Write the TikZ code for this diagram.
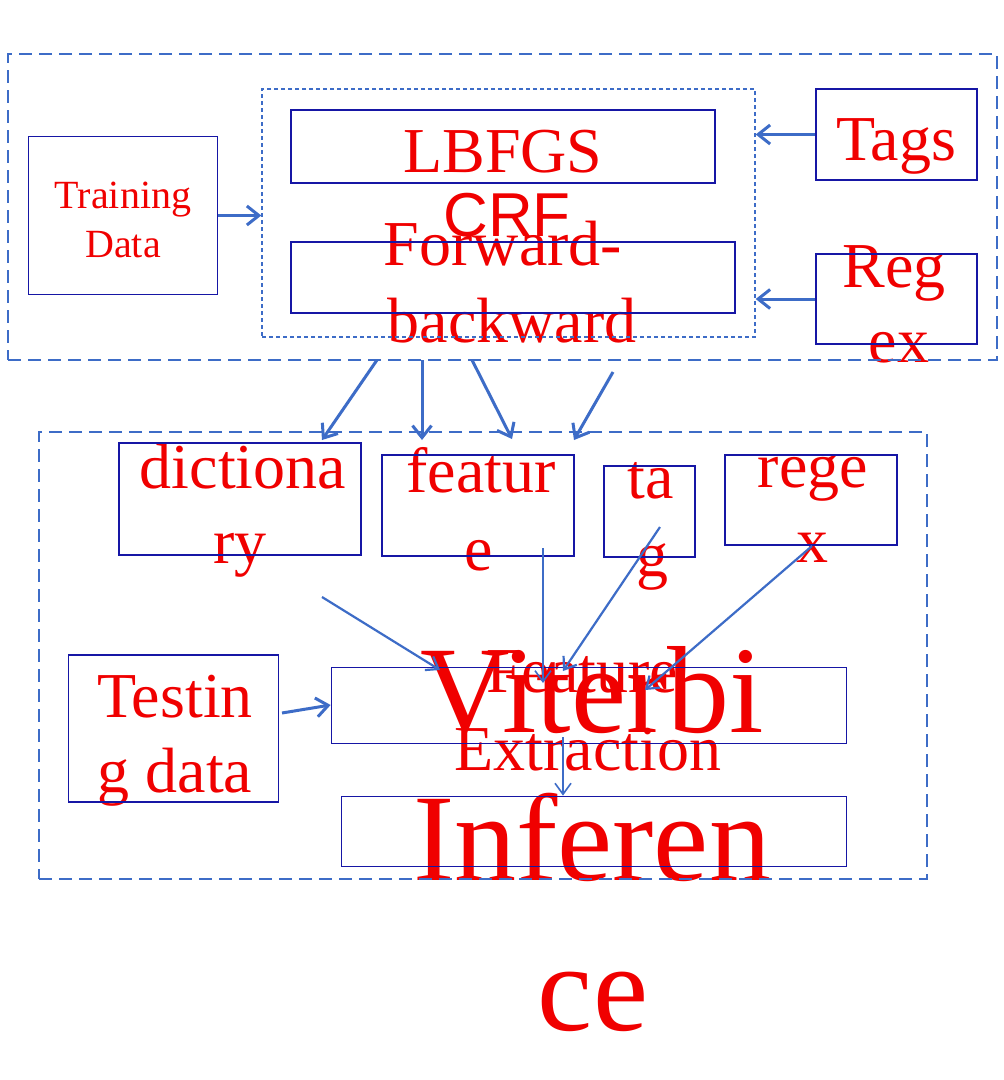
\documentclass[tikz,border=0pt]{standalone}
\usepackage{fontspec}
\setmainfont{Liberation Serif}
\newfontfamily\crfsans{Liberation Sans}
\usetikzlibrary{arrows.meta}
\definecolor{boxblue}{RGB}{22,22,165}
\definecolor{lineblue}{RGB}{61,108,199}
\definecolor{txtred}{RGB}{240,0,0}
\begin{document}
\begin{tikzpicture}[x=1pt,y=-1pt,
  lbl/.style={text=txtred, inner sep=0pt, anchor=base, font=\fontsize{64}{76}\selectfont},
  lblsmall/.style={lbl, font=\fontsize{40}{48}\selectfont},
  lblhuge/.style={lbl, font=\fontsize{124}{148}\selectfont},
  box/.style={draw=boxblue, line width=1.8pt, inner sep=0pt, rectangle},
  dashbox/.style={draw=lineblue, line width=2.4pt, dash pattern=on 13pt off 7pt, inner sep=0pt, rectangle},
  dotbox/.style={draw=lineblue, line width=1.4pt, dash pattern=on 4pt off 3pt, inner sep=0pt, rectangle},
  arr/.style={draw=lineblue, line width=3pt, -{Straight Barb[length=12pt,width=19pt]}},
  arrthin/.style={draw=lineblue, line width=2.2pt, -{Straight Barb[length=11pt,width=16pt]}}
]
\useasboundingbox (0,0) rectangle (1004,1080);
\fill[white] (0,0) rectangle (1004,1080);

% texts
\node[lbl] (tLBFGS) at (503,172) {LBFGS};
\node[lbl, font=\crfsans\fontsize{62}{74}\selectfont] (tCRF) at (507,236) {CRF};
\node[lbl] (tFw) at (503,265) {Forward-};
\node[lbl] (tBw) at (512,342) {backward};
\node[lblsmall] (tTr) at (123,208) {Training};
\node[lblsmall] (tDa) at (123,257) {Data};
\node[lbl] (tTags) at (896,160) {Tags};
\node[lbl] (tReg) at (894,287) {Reg};
\node[lbl] (tEx) at (899,362) {ex};
\node[lbl] (tDic1) at (243,488) {dictiona};
\node[lbl] (tDic2) at (240,563) {ry};
\node[lbl] (tFea1) at (481,492) {featur};
\node[lbl] (tFea2) at (479,570) {e};
\node[lbl] (tTag1) at (651,498) {ta};
\node[lbl] (tTag2) at (652,576) {g};
\node[lbl] (tRe1) at (813,487) {rege};
\node[lbl] (tRe2) at (812,562) {x};
\node[lbl] (tTe1) at (175,717) {Testin};
\node[lbl] (tTe2) at (175,792) {g data};
\node[lbl] (tFE1) at (582,692) {Feature};
\node[lbl] (tFE2) at (588,770) {Extraction};
\node[lblhuge] (tVit) at (592,732) {Viterbi};
\node[lblhuge] (tInf1) at (592,880) {Inferen};
\node[lblhuge] (tInf2) at (593,1030) {ce};

% containers
\node[dashbox, minimum width=989pt, minimum height=306pt] (topouter) at (502.5,207) {};
\node[dotbox, minimum width=493pt, minimum height=248pt] (crf) at (508.5,213) {};
\node[dashbox, minimum width=888pt, minimum height=447pt] (botouter) at (483,655.5) {};

% boxes
\node[box, minimum width=424pt, minimum height=73pt] (lbfgs) at (503,146.5) {};
\node[box, minimum width=444pt, minimum height=71pt] (fb) at (513,277.5) {};
\node[box, minimum width=189pt, minimum height=158pt] (train) at (123,215.5) {};
\node[box, minimum width=161pt, minimum height=91pt] (tags) at (896.5,134.5) {};
\node[box, minimum width=161pt, minimum height=90pt] (regT) at (896.5,299) {};
\node[box, minimum width=242pt, minimum height=112pt] (dict) at (240,499) {};
\node[box, minimum width=192pt, minimum height=101pt] (feat) at (478,505.5) {};
\node[box, minimum width=91pt, minimum height=91pt] (tag) at (649.5,511.5) {};
\node[box, minimum width=172pt, minimum height=90pt] (regB) at (811,500) {};
\node[box, minimum width=210pt, minimum height=147pt] (test) at (173.5,728.5) {};
\node[box, minimum width=515pt, minimum height=76pt] (fe) at (589,705.5) {};
\node[box, minimum width=505pt, minimum height=70pt] (inf) at (594,831.5) {};

% free ends
\coordinate (s1) at (377,360);
\coordinate (e1) at (322,440);
\coordinate (s2) at (422,360);
\coordinate (e2) at (422,440);
\coordinate (s3) at (472,360);
\coordinate (e3) at (512,439);
\coordinate (s4) at (613,372);
\coordinate (e4) at (574,440);
\coordinate (d1) at (322,597);
\coordinate (d2) at (440,670);
\coordinate (f1) at (543,548);
\coordinate (f2) at (543,683);
\coordinate (g1) at (660,527);
\coordinate (g2) at (563,671);
\coordinate (r1) at (812,546);
\coordinate (r2) at (645,690);
\coordinate (t1) at (282,713);
\coordinate (i1) at (563,737);

% connectors
\draw[arr] (train.east) -- (crf.west |- train.east);
\draw[arr] (tags.west) -- (crf.east |- tags.west);
\draw[arr] (regT.west) -- (crf.east |- regT.west);
\draw[arr] (s1) -- (e1);
\draw[arr] (s2) -- (e2);
\draw[arr] (s3) -- (e3);
\draw[arr] (s4) -- (e4);
\draw[arrthin] (d1) -- (d2);
\draw[arrthin, line width=1.6pt] (f1) -- (f2);
\draw[arrthin] (g1) -- (g2);
\draw[arrthin] (r1) -- (r2);
\draw[arr] (t1) -- (fe.west |- 0,705);
\draw[arrthin, line width=1.6pt] (i1) -- (inf.north -| i1);
\end{tikzpicture}
\end{document}
